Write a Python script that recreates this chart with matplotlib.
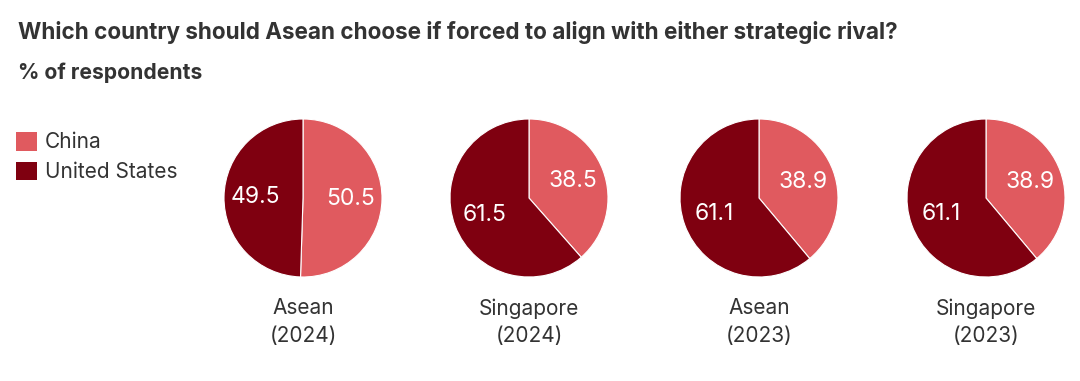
import matplotlib.pyplot as plt
from matplotlib.patches import Patch

plt.rcParams['font.family'] = ['Inter', 'DejaVu Sans']

groups = ['Asean\n(2024)', 'Singapore\n(2024)', 'Asean\n(2023)', 'Singapore\n(2023)']
china = [50.5, 38.5, 38.9, 38.9]
us = [49.5, 61.5, 61.1, 61.1]
series = ['China', 'United States']
colors = ['#e05a5f', '#7f0010']

W, H = 1080, 381
fig = plt.figure(figsize=(W / 100, H / 100), dpi=100)
ax = fig.add_axes([0, 0, 1, 1])

centers_x = [303, 529, 759, 986]
cy = H - 198
r = 79

for cx, g, c, u in zip(centers_x, groups, china, us):
    ax.pie([c, u], colors=colors, startangle=90, counterclock=False,
           center=(cx, cy), radius=r, autopct=lambda p: f'{p:.1f}',
           pctdistance=0.6, wedgeprops=dict(edgecolor='white', linewidth=0.8),
           textprops=dict(color='white', fontsize=16.5))
    ax.text(cx, H - 322, g, ha='center', va='center', fontsize=15,
            color='#333333', linespacing=1.45)

ax.set_xlim(0, W)
ax.set_ylim(0, H)
ax.set_aspect('equal')
ax.axis('off')

fig.text(18 / W, 1 - 32 / H, 'Which country should Asean choose if forced to align with either strategic rival?',
         fontsize=16.2, fontweight='bold', color='#333333', va='center')
fig.text(18 / W, 1 - 73 / H, '% of respondents', fontsize=15.2, fontweight='bold',
         color='#333333', va='center')

handles = [Patch(facecolor=col, edgecolor='none') for col in colors]
ax.legend(handles, series, loc='upper left', bbox_to_anchor=(16 / W, 1 - 132 / H),
          frameon=False, fontsize=15, handlelength=1.0, handleheight=1.0,
          handletextpad=0.4, labelspacing=0.45, borderpad=0, borderaxespad=0,
          labelcolor='#333333')

fig.savefig('out.png', dpi=100)
